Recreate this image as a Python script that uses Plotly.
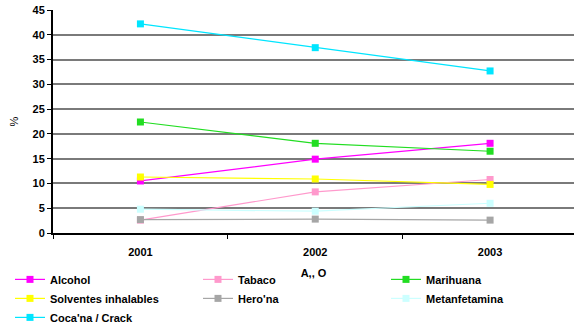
import plotly.graph_objects as go

years = ["2001", "2002", "2003"]

alcohol = [10.5, 14.9, 18.1]
tabaco = [2.6, 8.3, 10.8]
marihuana = [22.4, 18.1, 16.5]
solventes = [11.3, 10.9, 9.8]
heroina = [2.7, 2.8, 2.6]
metanfetamina = [4.8, 4.4, 6.0]
cocaina = [42.2, 37.4, 32.7]

series = [
    ("Alcohol", alcohol, "#FF00FF"),
    ("Tabaco", tabaco, "#FF99CC"),
    ("Marihuana", marihuana, "#22DD22"),
    ("Solventes inhalables", solventes, "#FFFF00"),
    ("Hero'na", heroina, "#A6A6A6"),
    ("Metanfetamina", metanfetamina, "#CCFFFF"),
    ("Coca'na / Crack", cocaina, "#00E5FF"),
]

fig = go.Figure()
for name, vals, color in series:
    fig.add_trace(go.Scatter(
        x=years, y=vals, name=name, mode="lines+markers",
        line=dict(color=color, width=1.2),
        marker=dict(symbol="square", size=7, color=color),
    ))

font_family = "Liberation Sans, Arial, sans-serif"

fig.update_layout(
    width=574, height=333,
    margin=dict(l=53, r=0, t=10, b=100),
    paper_bgcolor="white", plot_bgcolor="white",
    font=dict(family=font_family, size=11, color="black"),
    showlegend=True,
    legend=dict(
        orientation="h", x=-0.066, xanchor="left", y=-0.143, yanchor="top",
        entrywidth=143, font=dict(size=11, family=font_family, weight="bold"),
        traceorder="normal", itemwidth=30, tracegroupgap=0,
        bgcolor="rgba(0,0,0,0)",
    ),
    xaxis=dict(
        type="category", range=[-0.5, 2.48],
        showline=True, linecolor="black", linewidth=1.5,
        ticks="outside", tickson="boundaries", ticklen=4, tickcolor="black",
        ticklabelstandoff=8,
        showgrid=False,
        tickfont=dict(size=11, family=font_family, weight="bold"),
        title=dict(text="A,, O", font=dict(size=11, family=font_family, weight="bold"), standoff=12),
    ),
    yaxis=dict(
        range=[0, 45], dtick=5,
        showline=True, linecolor="black", linewidth=2,
        ticks="outside", ticklen=4, tickcolor="black",
        showgrid=True, gridcolor="#7A7A7A", gridwidth=1.5,
        zeroline=False,
        tickfont=dict(size=11, family=font_family, weight="bold"),
        title=dict(text="%", font=dict(size=11, family=font_family), standoff=12),
    ),
)

fig.write_html("out.html")
